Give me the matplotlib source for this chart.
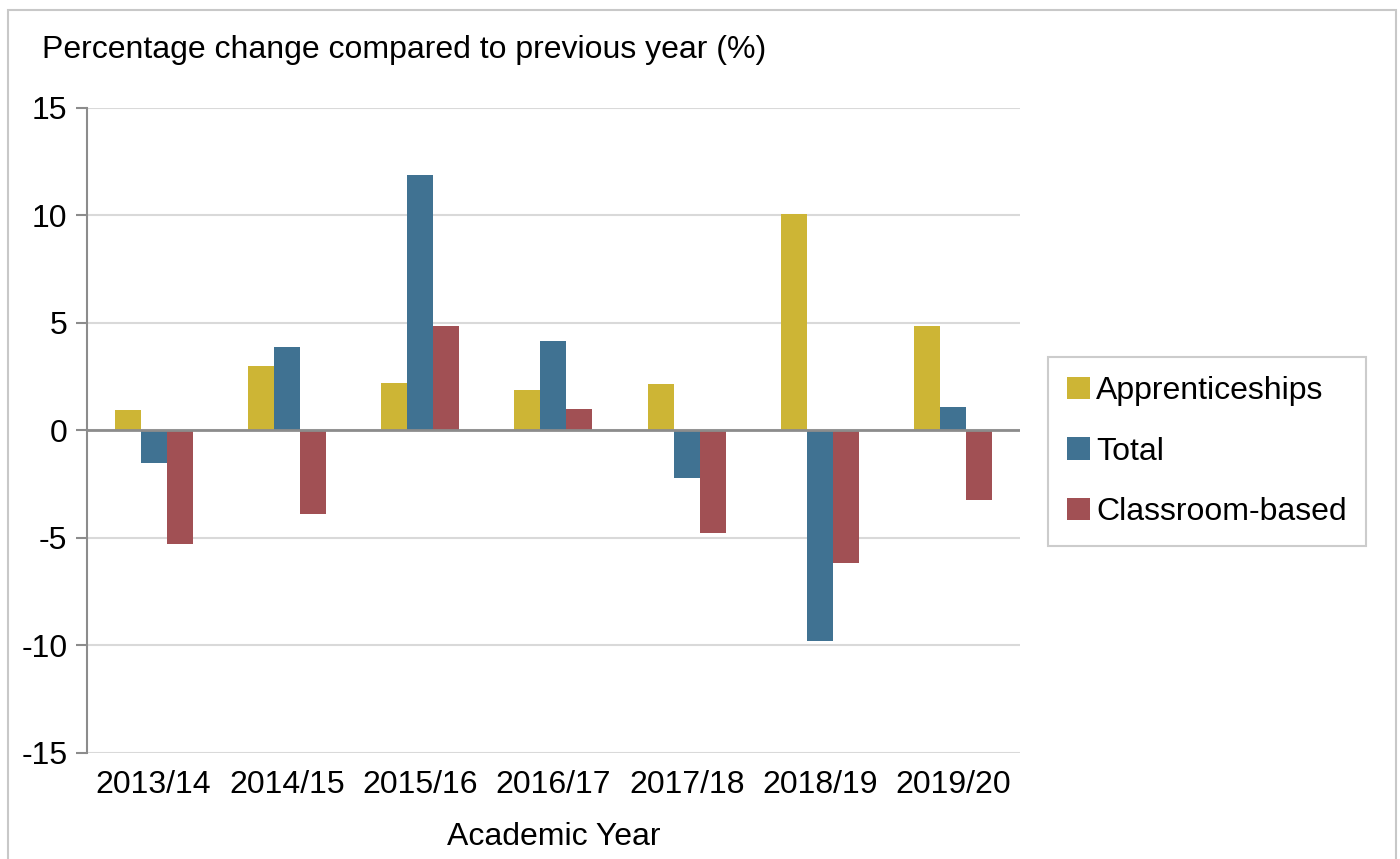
import matplotlib.pyplot as plt
import numpy as np
from matplotlib.patches import Rectangle

plt.rcParams['font.family'] = ['Liberation Sans', 'DejaVu Sans']
plt.rcParams['axes.unicode_minus'] = False

years = ["2013/14", "2014/15", "2015/16", "2016/17", "2017/18", "2018/19", "2019/20"]
apprenticeships = [0.95, 2.98, 2.19, 1.86, 2.17, 10.05, 4.88]
total = [-1.53, 3.9, 11.9, 4.14, -2.19, -9.77, 1.07]
classroom = [-5.26, -3.9, 4.84, 1.02, -4.79, -6.14, -3.21]

colors = ["#CDB535", "#407292", "#A15054"]
fs = 23

fig = plt.figure(figsize=(14, 8.59), dpi=100)
ax = fig.add_axes([0.0621, 0.1234, 0.6665, 0.7509])

x = np.arange(len(years))
w = 0.195
ax.bar(x - w, apprenticeships, w, color=colors[0], label="Apprenticeships", zorder=3)
ax.bar(x, total, w, color=colors[1], label="Total", zorder=3)
ax.bar(x + w, classroom, w, color=colors[2], label="Classroom-based", zorder=3)

ax.set_xlim(-0.5, len(years) - 0.5)
ax.set_ylim(-15, 15)
ax.set_yticks(range(-15, 16, 5))
ax.set_xticks(x)
ax.set_xticklabels(years)

ax.yaxis.grid(True, color="#d9d9d9", linewidth=1.5, zorder=0)
ax.axhline(0, color="#8c8c8c", linewidth=2, zorder=4)

for side in ["top", "right", "bottom"]:
    ax.spines[side].set_visible(False)
ax.spines["left"].set_color("#8c8c8c")
ax.spines["left"].set_linewidth(1.5)
ax.tick_params(axis="y", length=8, width=1.5, color="#8c8c8c", labelsize=fs, pad=6)
ax.tick_params(axis="x", length=0, labelsize=fs, pad=12)

fig.text(0.03, 0.942, "Percentage change compared to previous year (%)",
         fontsize=fs, va="center", ha="left")
ax.set_xlabel("Academic Year", fontsize=fs, labelpad=16)

leg = ax.legend(loc="center left", bbox_to_anchor=(1.03, 0.467), fontsize=fs,
                frameon=True, fancybox=False, handlelength=0.7, handleheight=0.7,
                handletextpad=0.2, labelspacing=0.95, borderpad=0.6, borderaxespad=0)
leg.get_frame().set_edgecolor("#c0c0c0")
leg.get_frame().set_linewidth(1.5)

# light frame around the whole chart
fig.patches.append(Rectangle((0.006, -0.01), 0.991, 0.998, transform=fig.transFigure,
                             fill=False, edgecolor="#c8c8c8", linewidth=1.5))

fig.savefig("out.png", dpi=100)
